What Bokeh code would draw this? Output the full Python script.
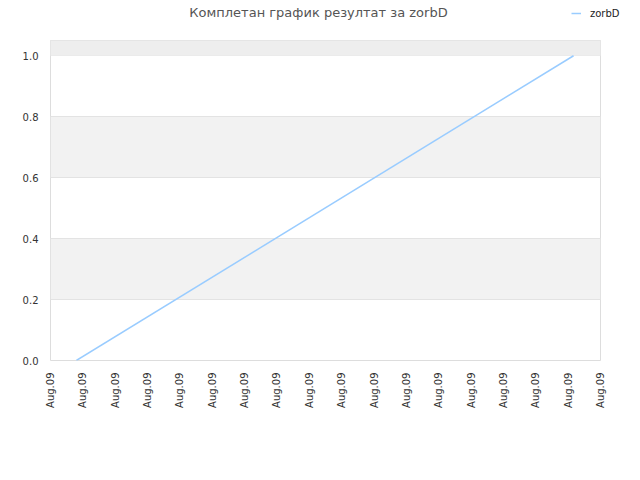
from datetime import datetime, timedelta
from bokeh.plotting import figure
from bokeh.layouts import column
from bokeh.models import (FixedTicker, DatetimeTickFormatter, PrintfTickFormatter,
                          BoxAnnotation, Legend, LegendItem, Range1d, Label)
from bokeh.embed import file_html
from bokeh.resources import INLINE
import math

# ---- data ----
title_text = "Комплетан график резултат за zorbD"
series_name = "zorbD"
x_start = datetime(2009, 8, 9, 4, 0)
x_end = datetime(2009, 8, 9, 21, 0)
x_ticks = [x_start + timedelta(hours=h) for h in range(18)]
line_times = [datetime(2009, 8, 9, 4, 48), datetime(2009, 8, 9, 20, 10)]
line_values = [0.0, 1.0]
y_ticks = [0.0, 0.2, 0.4, 0.6, 0.8, 1.0]
y_top = 1.05

FONT = "DejaVu Sans"
LINE_COLOR = "#99ccff"
W = 624

def ms(d):
    return (d - datetime(1970, 1, 1)).total_seconds() * 1000.0

xs = [ms(t) for t in line_times]

# ---- header (title + legend) ----
hdr = figure(width=W, height=40, output_backend="svg", toolbar_location=None,
             x_axis_type=None, y_axis_type=None,
             x_range=Range1d(0, W), y_range=Range1d(0, 40),
             min_border=0)
hdr.frame_align = False
hdr.outline_line_color = None
hdr.xgrid.visible = False
hdr.ygrid.visible = False
hdr.add_layout(Label(x=318, y=28, x_units="screen", y_units="screen",
                     text=title_text, text_align="center", text_baseline="middle",
                     text_font=FONT, text_font_size="13px", text_color="#555555"))
# legend swatch renderer (same series, out of the header's view)
hr = hdr.line(xs, line_values, line_color=LINE_COLOR, line_width=1.5)
hdr.add_layout(Legend(items=[LegendItem(label=series_name, renderers=[hr])],
                      location=(571, 20), orientation="horizontal",
                      background_fill_alpha=0, border_line_color=None,
                      padding=0, margin=0, spacing=0,
                      glyph_width=10, glyph_height=14, label_height=14,
                      label_standoff=9, label_text_font=FONT,
                      label_text_font_size="10px", label_text_color="#222222"))

# ---- main chart ----
p = figure(width=W, height=424, x_axis_type="datetime",
           output_backend="svg", toolbar_location=None,
           x_range=Range1d(ms(x_start), ms(x_end)),
           y_range=Range1d(0, y_top),
           min_border_left=50, min_border_right=24,
           min_border_top=0, min_border_bottom=104)
p.frame_align = False
p.frame_width = 550
p.frame_height = 320

p.background_fill_color = "#ffffff"
p.border_fill_color = "#ffffff"
p.outline_line_color = "#dddddd"
p.outline_line_width = 1

p.add_layout(BoxAnnotation(bottom=1.0, top=y_top, fill_color="#eeeeee",
                           fill_alpha=1.0, line_alpha=0, level="underlay"))

p.line(xs, line_values, line_color=LINE_COLOR, line_width=1.5)

xa = p.xaxis[0]
xa.ticker = FixedTicker(ticks=[ms(t) for t in x_ticks])
fmt = "%b.%d"
xa.formatter = DatetimeTickFormatter(milliseconds=fmt, seconds=fmt, minsec=fmt,
                                     minutes=fmt, hourmin=fmt, hours=fmt,
                                     days=fmt, months=fmt, years=fmt)
xa.major_label_orientation = math.pi / 2
ya = p.yaxis[0]
ya.ticker = FixedTicker(ticks=y_ticks)
ya.formatter = PrintfTickFormatter(format="%.1f")
for ax in (xa, ya):
    ax.axis_line_color = None
    ax.major_tick_line_color = None
    ax.minor_tick_line_color = None
    ax.major_tick_out = 0
    ax.major_tick_in = 0
    ax.major_label_standoff = 12
    ax.major_label_text_font = FONT
    ax.major_label_text_font_size = "10px"
    ax.major_label_text_color = "#333333"

p.xgrid.grid_line_color = None
p.ygrid.grid_line_color = "#e3e3e3"
p.ygrid.band_fill_color = "#f2f2f2"
p.ygrid.band_fill_alpha = 1.0

layout = column(hdr, p, spacing=0)
open("out.html", "w").write(file_html(layout, INLINE))
